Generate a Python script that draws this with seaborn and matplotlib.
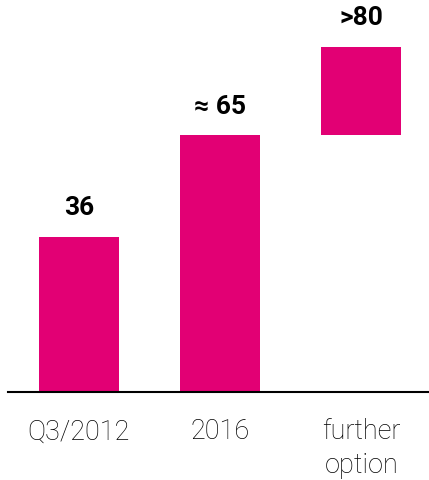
import matplotlib
matplotlib.use("Agg")
import matplotlib.pyplot as plt
import seaborn as sns
import pandas as pd

# data
categories = ["Q3/2012", "2016", "further\noption"]
bar_bottom = [0, 0, 59.5]
bar_top = [36, 59.5, 80]
value_labels = ["36", "\u2248 65", ">80"]

magenta = "#E20074"

sns.set_style("white")
plt.rcParams["font.family"] = ["Roboto", "Liberation Sans", "DejaVu Sans"]
plt.rcParams["text.color"] = "black"
plt.rcParams["xtick.color"] = "black"

df = pd.DataFrame({"cat": categories, "top": bar_top})

fig = plt.figure(figsize=(4.29, 4.8), dpi=100)
ax = fig.add_axes([8 / 429, 88 / 480, 1 - 8 / 429, 1 - 88 / 480])

sns.barplot(data=df, x="cat", y="top", color=magenta, width=0.565,
            saturation=1, ax=ax)

# floating bar for the last category
for patch, lo, hi in zip(ax.patches, bar_bottom, bar_top):
    patch.set_y(lo)
    patch.set_height(hi - lo)
    patch.set_edgecolor("none")

for i, (hi, lab) in enumerate(zip(bar_top, value_labels)):
    ax.annotate(lab, (i, hi), xytext=(0, 12), textcoords="offset points",
                ha="center", va="bottom", fontsize=19, fontweight="bold")

ax.set_xlim(-0.502, 2.48)
ax.set_ylim(0, 90.9)
ax.set_xlabel("")
ax.set_ylabel("")
ax.set_yticks([])
ax.tick_params(axis="x", length=0, pad=19, labelsize=19.5)
for lbl in ax.get_xticklabels():
    lbl.set_va("top")
    lbl.set_fontweight("light")
    lbl.set_linespacing(1.3)

for side in ["top", "left", "right"]:
    ax.spines[side].set_visible(False)
ax.spines["bottom"].set_color("black")
ax.spines["bottom"].set_linewidth(1.5)

fig.savefig("out.png", dpi=100)
